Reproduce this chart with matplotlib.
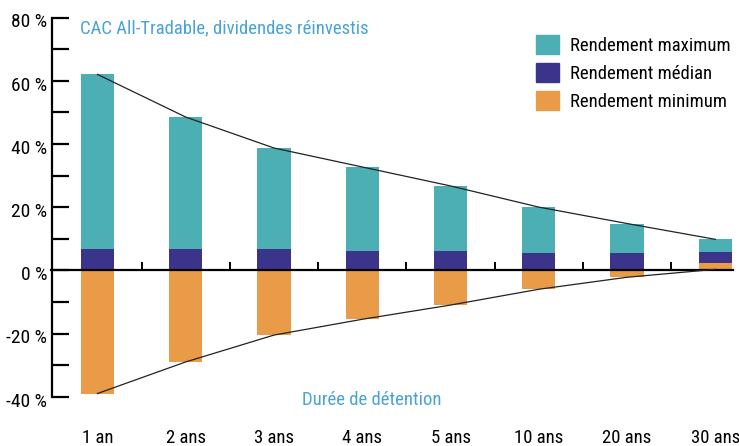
import matplotlib
matplotlib.use('Agg')
import matplotlib.pyplot as plt
import matplotlib.transforms as mtransforms
from matplotlib.patches import Patch
import numpy as np

plt.rcParams['font.family'] = ['Roboto Condensed', 'DejaVu Sans']

# valeurs (en %)
durees = ['1 an', '2 ans', '3 ans', '4 ans', '5 ans', '10 ans', '20 ans', '30 ans']
rdt_max = [62.0, 48.5, 38.7, 32.7, 26.7, 20.0, 14.8, 9.8]
rdt_median = [6.6, 6.6, 6.6, 6.1, 6.0, 5.5, 5.5, 5.9]
rdt_min = [-39.0, -29.0, -20.5, -15.5, -11.0, -6.0, -2.2, 2.2]
enveloppe_basse = [-39.0, -29.0, -20.5, -15.5, -11.0, -6.0, -2.2, 0.3]

TEAL = '#4bafb4'
PURPLE = '#3c348a'
ORANGE = '#e99b47'
BLUE = '#4aa3d8'

fig = plt.figure(figsize=(7.39, 4.46), dpi=100)
ax = fig.add_axes([51.5/739, 1-396.7/446, (733-51.5)/739, (396.7-17.5)/446])

x = np.arange(len(durees))
mx = np.array(rdt_max)
md = np.array(rdt_median)
mn = np.array(rdt_min)
w = 0.378

# orange : de 0 au minimum
ax.bar(x, mn, w, color=ORANGE, zorder=2)
# violet : du plancher (0 ou minimum positif) au median
base_med = np.where(mn > 0, mn, 0)
ax.bar(x, md - base_med, w, bottom=base_med, color=PURPLE, zorder=2)
# turquoise : du median au maximum
ax.bar(x, mx - md, w, bottom=md, color=TEAL, zorder=2)

ax.plot(x, mx, color='#222222', lw=0.9, zorder=3)
ax.plot(x, enveloppe_basse, color='#222222', lw=0.9, zorder=3)

ax.set_xlim(-0.52, 7.2)
ax.set_ylim(-40, 80)

for s in ['top', 'right']:
    ax.spines[s].set_visible(False)
ax.spines['left'].set_linewidth(1.6)
ax.spines['bottom'].set_position(('data', 0))
ax.spines['bottom'].set_linewidth(1.6)

ax.set_yticks(np.arange(-40, 81, 20))
ax.set_yticklabels([f'{v} %' for v in range(-40, 81, 20)])
ax.set_yticks(np.arange(-30, 80, 20), minor=True)
ax.tick_params(axis='y', which='both', direction='in', length=12.5, width=1.6,
               pad=3, labelsize=14)
shift = mtransforms.ScaledTranslation(0, 3/72, fig.dpi_scale_trans)
for lbl in ax.get_yticklabels():
    lbl.set_va('top')
    lbl.set_transform(lbl.get_transform() + shift)

ax.set_xticks(x)
ax.set_xticklabels(durees)
ax.set_xticks(x[:-1] + 0.5, minor=True)
ax.tick_params(axis='x', which='major', length=0, pad=114, labelsize=13.5)
ax.tick_params(axis='x', which='minor', direction='in', length=6, width=1.4)

fig.text(80/739, 1-28/446, 'CAC All-Tradable, dividendes réinvestis',
         color=BLUE, fontsize=13.5, va='center', ha='left')
fig.text(372/739, 1-400/446, 'Durée de détention', color=BLUE, fontsize=13.5,
         va='center', ha='center')

handles = [Patch(color=TEAL), Patch(color=PURPLE), Patch(color=ORANGE)]
labels = ['Rendement maximum', 'Rendement médian', 'Rendement minimum']
fig.legend(handles, labels, loc='upper left', bbox_to_anchor=(536/739, 1-35/446),
           frameon=False, fontsize=13.5, handlelength=1.2, handleheight=1.2,
           labelspacing=0.42, handletextpad=0.6, borderpad=0, borderaxespad=0)

fig.savefig('out.png', dpi=100)
